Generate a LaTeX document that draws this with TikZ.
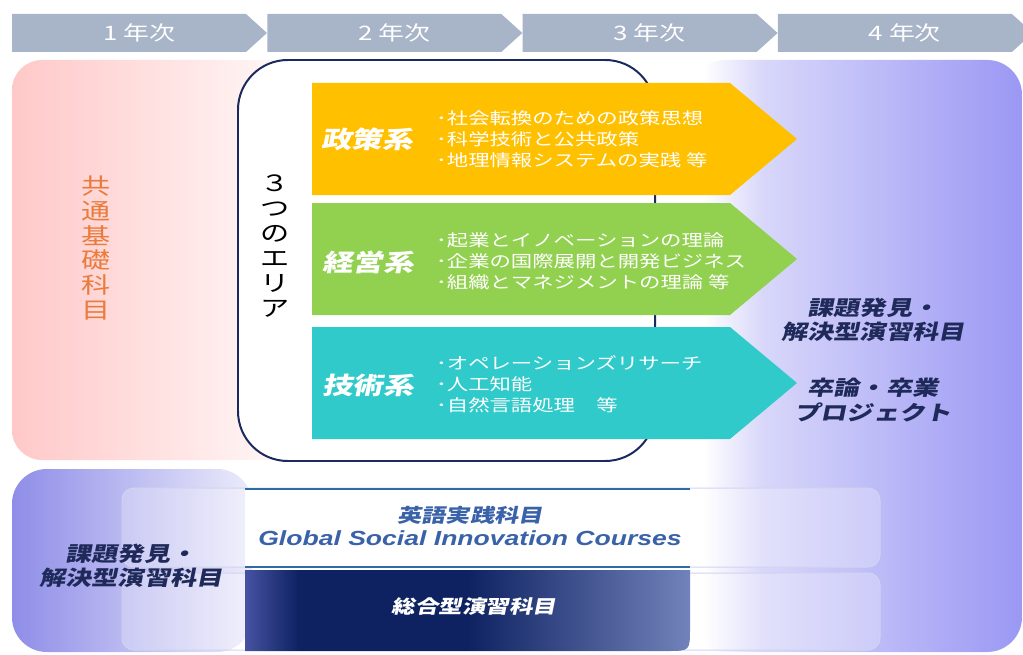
\documentclass[tikz,border=0pt]{standalone}
\usepackage{fontspec}
\usepackage{tikz}

\newfontfamily\jp[FakeStretch=1.3]{Noto Sans CJK JP}
\newfontfamily\jpsl[FakeStretch=1.28,FakeSlant=0.2]{Noto Sans CJK JP}
\newfontfamily\ensl[FakeStretch=1.3]{Liberation Sans}

\definecolor{yeargray}{HTML}{A8B4C8}
\definecolor{pinkbase}{HTML}{FFC8C8}
\definecolor{areanavy}{HTML}{1B2A5E}
\definecolor{polyellow}{HTML}{FFC000}
\definecolor{mgtgreen}{HTML}{92D050}
\definecolor{techcyan}{HTML}{30CACA}
\definecolor{basicorange}{HTML}{E97C3C}
\definecolor{lavlight}{HTML}{D8D7FA}
\definecolor{lavdeep}{HTML}{9B98F4}
\definecolor{lavleft}{HTML}{8F8DE8}
\definecolor{lavpale}{HTML}{ECECFB}
\definecolor{textnavy}{HTML}{1F2A5A}
\definecolor{bandline}{HTML}{2E6DA4}
\definecolor{engblue}{HTML}{3A62A8}
\definecolor{navymid}{HTML}{4752A2}
\definecolor{navydark}{HTML}{0E2262}
\definecolor{navylight}{HTML}{7282BA}
\definecolor{boxedge}{HTML}{D2D4EE}

\pgfdeclarehorizontalshading{rightfade}{100bp}{color(0bp)=(white); color(27bp)=(white); color(36bp)=(lavlight); color(75bp)=(lavdeep); color(100bp)=(lavdeep)}
\pgfdeclarehorizontalshading{navyband}{100bp}{color(0bp)=(navymid); color(25bp)=(navymid); color(31bp)=(navydark); color(50bp)=(navydark); color(75bp)=(navylight); color(100bp)=(navylight)}

\tikzset{
  yeartext/.style={text=white, font=\jp\fontsize{20}{22}\selectfont},
  catlabel/.style={text=white, font=\jpsl\bfseries\fontsize{24}{26}\selectfont},
  itemlist/.style={text=white, anchor=west, align=left, inner sep=0, font=\jp\fontsize{16.5}{21}\selectfont},
  tatetext/.style={align=center, inner sep=0, font=\jp\fontsize{22.5}{25}\selectfont},
  exertext/.style={text=textnavy, inner sep=0, font=\jpsl\bfseries\fontsize{20.5}{24.5}\selectfont},
  softbox/.style={draw=boxedge, line width=1, fill=white, fill opacity=0.25, rounded corners=12}
}

\begin{document}
\begin{tikzpicture}[x=1bp, y=-1bp]
\useasboundingbox (0,0) rectangle (1023,655);

% year headers
\foreach \i in {1,...,4} {
    \pgfmathsetmacro{\xl}{12+255.3*(\i-1)}
    \fill[yeargray] (\xl,14) -- (\xl+234,14) -- (\xl+255,33) -- (\xl+234,52) -- (\xl,52) -- cycle;
    \node[yeartext] (year\i) at (\xl+127,33) {\i\ 年次};
}

% common basics
\shade[left color=pinkbase, right color=white, rounded corners=30] (12,60) rectangle (330,460);
\node[tatetext, text=basicorange] (basic) at (96,248) {共\\通\\基\\礎\\科\\目};

% right side and bottom backgrounds
\shade[shading=rightfade, rounded corners=35] (690,60) rectangle (1022,652);
\shade[left color=lavleft, right color=lavpale, rounded corners=35] (12,469) rectangle (252,652);

% three areas
\draw[areanavy, line width=2, fill=white, rounded corners=50] (238,60) rectangle (655,461);
\node[tatetext, text=black] (three) at (275,246) {３\\つ\\の\\エ\\リ\\ア};

\foreach \yt/\yb/\col in {83/195/polyellow, 203/315/mgtgreen, 327/439/techcyan} {
    \fill[\col] (312,\yt) -- (730,\yt) -- (797,{(\yt+\yb)/2}) -- (730,\yb) -- (312,\yb) -- cycle;
}

\node[catlabel] (policy) at (367,139) {政策系};
\node[itemlist] (policyitems) at (436,139) {･社会転換のための政策思想\\･科学技術と公共政策\\･地理情報システムの実践 等};
\node[catlabel] (mgt) at (368,262) {経営系};
\node[itemlist] (mgtitems) at (436,261) {･起業とイノベーションの理論\\･企業の国際展開と開発ビジネス\\･組織とマネジメントの理論 等};
\node[catlabel] (tech) at (368,385) {技術系};
\node[itemlist] (techitems) at (436,384) {･オペレーションズリサーチ\\･人工知能\\･自然言語処理　等};

% 4th year
\node[exertext, align=center] (exerright) at (873,320) {課題発見・\\解決型演習科目};
\node[exertext, align=center] (thesis) at (873,400) {卒論・卒業\\プロジェクト};

% bottom bands
\path[softbox] (122,488) rectangle (880,567);
\path[softbox] (122,573) rectangle (880,650);
\fill[white] (245,488) rectangle (690,567);
\draw[bandline, line width=2.5] (245,489) -- (690,489);
\draw[bandline, line width=2.5] (245,567) -- (690,567);
\shade[shading=navyband] (245,570) -- (690,570) -- (690,628) .. controls (690,651) .. (667,651) -- (245,651) -- cycle;

\node[text=engblue, align=center, inner sep=0] (english) at (470,526) {{\jpsl\bfseries\fontsize{19}{23}\selectfont 英語実践科目}\\[5pt]{\ensl\bfseries\itshape\fontsize{20.5}{22}\selectfont Global Social Innovation Courses}};
\node[text=white, inner sep=0, font=\jpsl\bfseries\fontsize{18.5}{22}\selectfont] (general) at (474,607) {総合型演習科目};
\node[exertext, align=center] (exerleft) at (131,566) {課題発見・\\解決型演習科目};
\end{tikzpicture}
\end{document}
